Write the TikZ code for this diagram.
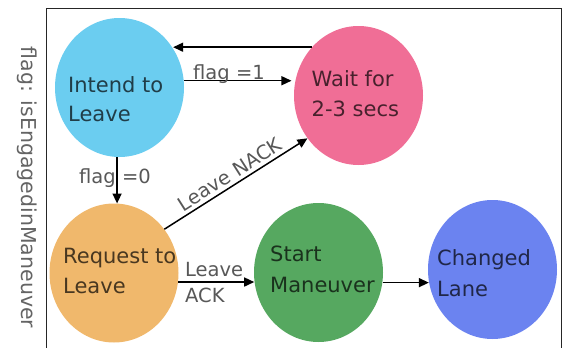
\documentclass[tikz,border=0pt]{standalone}
\usepackage{fontspec}
\setmainfont{DejaVu Sans}
\usetikzlibrary{shapes.geometric,arrows.meta}
\definecolor{cblue}{RGB}{107,205,240}
\definecolor{cpink}{RGB}{240,110,150}
\definecolor{corange}{RGB}{240,184,108}
\definecolor{cgreen}{RGB}{86,168,96}
\definecolor{cviolet}{RGB}{107,131,240}
\definecolor{labgray}{RGB}{88,88,88}
\definecolor{sidegray}{RGB}{100,100,100}
\begin{document}
\begin{tikzpicture}[x=1pt,y=-1pt,
  state/.style={ellipse, draw=none, inner sep=0pt, minimum width=129pt, minimum height=139pt},
  st/.style={anchor=base west, inner sep=0pt, font=\fontsize{21}{25}\selectfont},
  lab/.style={inner sep=0pt, text=labgray, font=\fontsize{19.5}{23}\selectfont},
  arr/.style={-{Triangle[length=10pt,width=9pt]}, line width=1.5pt},
  frame/.style={draw=black!85, line width=1pt}]
\useasboundingbox (0,0) rectangle (566,348);
\draw[frame] (46,352) -- (46,8) -- (561,8) -- (561,352);

\node[state, fill=cblue] (intend) at (119.5,87.5) {};
\node[state, fill=cpink] (wait) at (358.5,95.5) {};
\node[state, fill=corange] (request) at (114,273) {};
\node[state, fill=cgreen] (start) at (318.5,272.5) {};
\node[state, fill=cviolet] (changed) at (492.5,269.5) {};

\node[st, text=cblue!30!black] (t1a) at (68,92.5) {Intend to};
\node[st, text=cblue!30!black] (t1b) at (68,121.7) {Leave};
\node[st, text=cpink!30!black] (t2a) at (311.5,86) {Wait for};
\node[st, text=cpink!30!black] (t2b) at (311.5,116.7) {2-3 secs};
\node[st, text=corange!30!black] (t3a) at (63,263) {Request to};
\node[st, text=corange!30!black] (t3b) at (63,293) {Leave};
\node[st, text=cgreen!30!black] (t4a) at (270,261) {Start};
\node[st, text=cgreen!30!black] (t4b) at (270,292) {Maneuver};
\node[st, text=cviolet!30!black] (t5a) at (437,265) {Changed};
\node[st, text=cviolet!30!black] (t5b) at (437,296) {Lane};

\draw[arr] (wait.134.8) -- (wait.134.8 -| intend.36.6);
\draw[arr, shorten >=4pt] (intend.6.67) -- (intend.6.67 -| wait.166.2);
\draw[arr] (intend.268.8) -- (intend.268.8 |- request.86.7);
\draw[arr] (request.41.3) -- node[lab, sloped, above=3pt] {Leave NACK} (wait.220.8);
\draw[arr] (request.352.8) -- (request.352.8 -| start.187.6);
\draw[arr] (start.351.5) -- (start.351.5 -| changed.191.2);

\node[lab, anchor=base west] (l1) at (193,79) {flag =1};
\node[lab, anchor=base west] (l0) at (79,183) {flag =0};
\node[lab, anchor=base west] (lacka) at (185,276.7) {Leave};
\node[lab, anchor=base west] (lackb) at (185,302) {ACK};

\node[inner sep=0pt, rotate=-90, text=sidegray, font=\fontsize{20.5}{24}\selectfont] (side) at (27,187.5) {flag: isEngagedinManeuver};
\end{tikzpicture}
\end{document}
